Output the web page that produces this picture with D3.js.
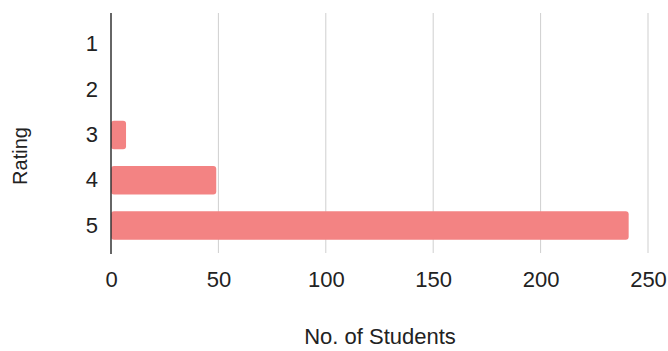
<!DOCTYPE html>
<html>
<head>
<meta charset="utf-8">
<script src="https://cdn.jsdelivr.net/npm/d3@7"></script>
<style>
  html, body { margin: 0; padding: 0; background: #fff; }
  svg { display: block; font-family: Arial, "Liberation Sans", sans-serif; }
</style>
</head>
<body>
<svg id="chart" width="668" height="351"></svg>
<script>
// Student ratings: number of students per rating
const ratings = ["1", "2", "3", "4", "5"];
const students = [0, 0, 7, 49, 241];
const xTicks = [0, 50, 100, 150, 200, 250];
const xTitle = "No. of Students";
const yTitle = "Rating";

const svg = d3.select("#chart");
const plot = { left: 111, right: 648, top: 13, bottom: 248 };

const x = d3.scaleLinear().domain([0, 250]).range([plot.left, plot.right]);
const y = d3.scaleBand().domain(ratings).range([22, 248]).paddingInner(0.37).paddingOuter(0.18);

// vertical gridlines
svg.append("g")
  .selectAll("line")
  .data(xTicks.filter(d => d !== 0))
  .join("line")
  .attr("x1", d => x(d)).attr("x2", d => x(d))
  .attr("y1", plot.top).attr("y2", 253)
  .attr("stroke", "#cfcfcf").attr("stroke-width", 1);

// bars
const data = ratings.map((r, i) => ({ r, v: students[i] }));
svg.append("g")
  .selectAll("rect")
  .data(data.filter(d => d.v > 0))
  .join("rect")
  .attr("x", x(0))
  .attr("y", d => y(d.r))
  .attr("width", d => x(d.v) - x(0))
  .attr("height", y.bandwidth())
  .attr("rx", 3).attr("ry", 3)
  .attr("fill", "#f38383");

// baseline at zero
svg.append("line")
  .attr("x1", x(0)).attr("x2", x(0))
  .attr("y1", plot.top).attr("y2", 254)
  .attr("stroke", "#333").attr("stroke-width", 1.5);

// x axis labels
const xAxis = d3.axisBottom(x).tickValues(xTicks).tickSize(0).tickPadding(0);
const gx = svg.append("g").attr("transform", "translate(0,287)").call(xAxis);
gx.select(".domain").remove();
gx.selectAll("text")
  .attr("dy", 0)
  .attr("font-size", 22)
  .attr("fill", "#222")
  .attr("font-family", "Arial, 'Liberation Sans', sans-serif");

// y axis labels
const yAxis = d3.axisLeft(y).tickSize(0).tickPadding(0);
const gy = svg.append("g").attr("transform", "translate(98,0)").call(yAxis);
gy.select(".domain").remove();
gy.selectAll("text")
  .attr("font-size", 22)
  .attr("fill", "#222")
  .attr("font-family", "Arial, 'Liberation Sans', sans-serif");

// axis titles
svg.append("text")
  .attr("x", 380).attr("y", 344)
  .attr("text-anchor", "middle")
  .attr("font-size", 22).attr("fill", "#222")
  .text(xTitle);

svg.append("text")
  .attr("transform", "translate(27,156) rotate(-90)")
  .attr("text-anchor", "middle")
  .attr("font-size", 20).attr("fill", "#222")
  .text(yTitle);
</script>
</body>
</html>
